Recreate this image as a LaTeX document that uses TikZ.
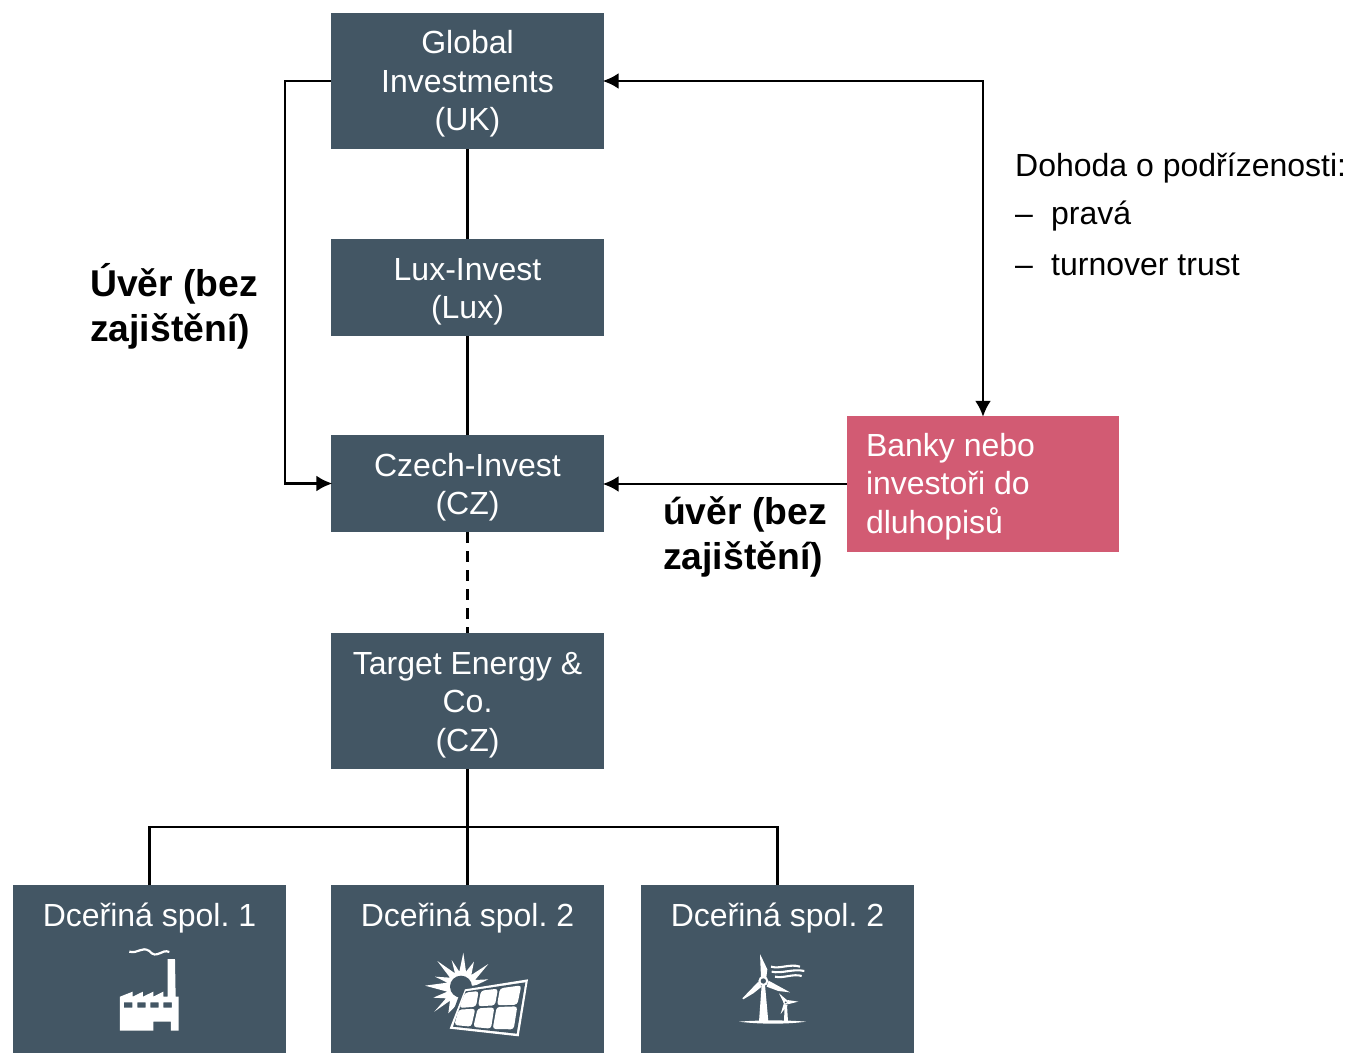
\documentclass[tikz,border=0pt]{standalone}
\usepackage{fontspec}
\setmainfont{Liberation Sans}
\usetikzlibrary{arrows.meta}
\definecolor{boxblue}{HTML}{435664}
\definecolor{bankred}{HTML}{D25B73}
\tikzset{
  entity/.style={fill=boxblue,text=white,inner sep=0pt,text width=273pt,align=flush center,text height=41pt,
    font=\frenchspacing\fontsize{32}{38.5}\selectfont},
  subsidiary/.style={entity,anchor=north,text depth=127pt},
  bank/.style={fill=bankred,text=white,inner sep=0pt,text width=234pt,minimum width=272pt,text height=40pt,text depth=96pt,
    align=flush left,font=\frenchspacing\fontsize{32}{38.5}\selectfont},
  loanlabel/.style={inner sep=0pt,align=left,anchor=north west,
    font=\frenchspacing\fontsize{37.3}{45}\selectfont\bfseries},
  notelabel/.style={inner sep=0pt,align=left,anchor=north west,
    font=\frenchspacing\fontsize{32}{38.5}\selectfont},
  link/.style={line width=2.5pt},
  stem/.style={line width=3pt},
  tip/.style={-{Latex[length=16pt,width=16pt]},shorten >=-1.5pt},
  twotips/.style={{Latex[length=16pt,width=16pt]}-{Latex[length=16pt,width=16pt]},shorten <=-1.5pt,shorten >=-1pt},
  icon/.style={fill=white,draw=none}
}
\begin{document}
\begin{tikzpicture}[x=1pt,y=-1pt]
  \useasboundingbox (0,0) rectangle (1349,1054);
  \draw
    (467.5,81) node[entity,text depth=95pt] (global){Global\\Investments\\(UK)}
    (467.5,287.5) node[entity,text depth=56pt] (lux){Lux-Invest\\(Lux)}
    (467.5,483.5) node[entity,text depth=56pt] (czech){Czech-Invest\\(CZ)}
    (467.5,701) node[entity,text depth=95pt] (target){Target Energy \&\\Co.\\(CZ)}
    (149.5,885) node[subsidiary] (sub1){Dceřiná spol. 1}
    (467.5,885) node[subsidiary] (sub2){Dceřiná spol. 2}
    (777.5,885) node[subsidiary] (sub3){Dceřiná spol. 2}
    (983,484) node[bank] (banks){Banky nebo\\investoři do\\dluhopisů};
  \node[loanlabel] (loan1) at (90,263) {Úvěr (bez\\zajištění)};
  \node[loanlabel] (loan2) at (663,496) {úvěr (bez\\zajištění)};
  \node[notelabel] (note) at (1015,153)
    {Dohoda o podřízenosti:\\[9pt]\makebox[36pt][l]{–}pravá\\[12.5pt]\makebox[36pt][l]{–}turnover trust};
  \coordinate (leftrail) at (285,81);
  \coordinate (fork) at (467.5,827);
  \begin{scope}[link]
    \draw[stem] (global) to (lux);
    \draw[stem] (lux) to (czech);
    \draw[dash pattern=on 11pt off 8pt] (czech) to (target);
    \draw[stem] (target) to (sub2);
    \draw[tip] (global.west) -- (leftrail) |- (czech.west);
    \draw[twotips] (global.east) -| (banks.north);
    \draw[tip] (banks.west) -- (banks.west -| czech.east);
    \draw (sub1.north) |- (fork) -| (sub3.north);
  \end{scope}
  % factory
  \begin{scope}[shift={(0,880)},x=0.3333pt,y=-0.3333pt]
    \fill[icon,even odd rule]
      (360,452) -- (360,350) -- (398,335) -- (398,350) -- (429,335) -- (429,350) -- (460,335) -- (460,350)
      -- (490,335) -- (490,350) -- (503,350) -- (503,237) -- (525,237) -- (527,350) -- (536,350) -- (536,452)
      -- (513,452) -- (513,425) -- (460,425) -- (460,452) -- cycle
      (372,367) rectangle (397,383) (412,367) rectangle (437,383)
      (451,367) rectangle (476,383) (490,367) rectangle (516,383);
    \draw[white,line width=2.2pt] (388,215) .. controls (415,222) and (425,198) .. (448,213)
      .. controls (470,240) and (485,205) .. (508,216);
  \end{scope}
  % solar panel
  \begin{scope}[shift={(400,930)},x=0.3333pt,y=-0.3333pt]
    \fill[icon] (190,68) -- (198,125) -- (222,95) -- (214,135) -- (265,102) -- (225,150) -- (265,148)
      -- (215,172) -- (160,235) -- (145,250) -- (150,212) -- (103,245) -- (138,205) -- (100,203)
      -- (142,185) -- (75,167) -- (142,158) -- (105,140) -- (150,143) -- (112,93) -- (165,130) -- (155,90) -- (178,125) -- cycle;
    \fill[boxblue] (183,170) circle (33);
    \fill[boxblue] (186,172) -- (384,142) -- (360,322) -- (140,298) -- cycle;
    \fill[icon] (195,178) -- (384,148) -- (356,319) -- (149,296) -- cycle;
    \fill[boxblue] (197,184) -- (376,157) -- (350,311) -- (159,290) -- cycle;
    \begin{scope}[rounded corners=3pt]
      \fill[icon] (195,188) -- (236,183) -- (228,230) -- (178,234) -- cycle;
      \fill[icon] (243,182) -- (294,176) -- (285,226) -- (234,229) -- cycle;
      \fill[icon] (300,175) -- (364,166) -- (352,224) -- (291,226) -- cycle;
      \fill[icon] (176,239) -- (226,236) -- (214,290) -- (163,285) -- cycle;
      \fill[icon] (233,235) -- (283,232) -- (273,296) -- (220,291) -- cycle;
      \fill[icon] (290,231) -- (352,229) -- (341,298) -- (278,297) -- cycle;
    \end{scope}
  \end{scope}
  % wind turbines
  \begin{scope}[shift={(710,930)},x=0.3333pt,y=-0.3333pt]
    \fill[icon] (87,275) .. controls (150,270) and (230,270) .. (288,275) .. controls (230,283) and (150,283) .. (87,275) -- cycle;
    \fill[icon] (147,275) -- (155,165) -- (165,165) -- (175,275) -- cycle;
    \fill[icon] (150,72) -- (172,118) -- (169,142) -- (153,142) -- cycle;
    \fill[icon] (176,152) -- (240,187) -- (205,183) -- (170,170) -- cycle;
    \fill[icon] (145,155) -- (97,205) -- (100,208) -- (130,190) -- (155,170) -- cycle;
    \fill[icon] (160,153) circle (15);
    \fill[boxblue] (160,153) circle (8);
    \fill[icon] (222,275) -- (224,225) -- (231,225) -- (234,275) -- cycle;
    \fill[icon] (207,190) -- (233,212) -- (222,220) -- cycle;
    \fill[icon] (232,210) -- (265,215) -- (232,223) -- cycle;
    \fill[icon] (221,222) -- (212,252) -- (233,225) -- cycle;
    \fill[icon] (227,217) circle (7);
    \fill[boxblue] (227,217) circle (3);
    \draw[white,line width=2.1pt] (183,110) .. controls (210,118) and (240,100) .. (270,110);
    \draw[white,line width=2.1pt] (185,125) .. controls (215,132) and (250,115) .. (283,123);
    \draw[white,line width=2.1pt] (195,140) .. controls (220,146) and (250,130) .. (275,138);
  \end{scope}
\end{tikzpicture}
\end{document}
